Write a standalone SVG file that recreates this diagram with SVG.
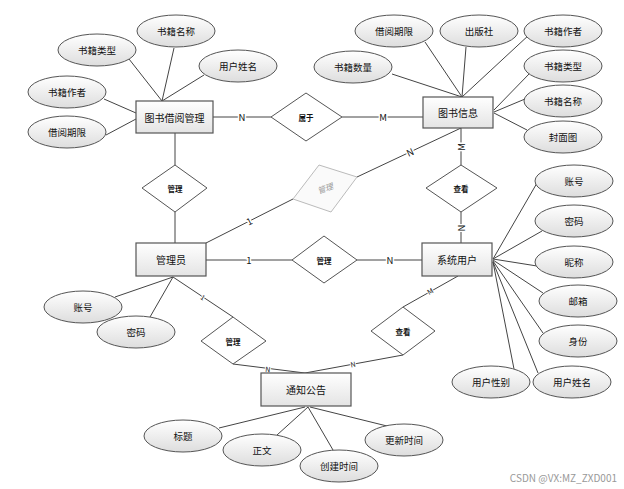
<svg xmlns="http://www.w3.org/2000/svg" width="624" height="489" viewBox="0 0 624 489">
<defs>
<linearGradient id="gr" x1="0" y1="0" x2="0" y2="1"><stop offset="0" stop-color="#ffffff"/><stop offset="1" stop-color="#e4e4e4"/></linearGradient>
<linearGradient id="ge" x1="0" y1="0" x2="0" y2="1"><stop offset="0" stop-color="#ffffff"/><stop offset="1" stop-color="#dddddd"/></linearGradient>
</defs>
<style>
text{font-family:"Noto Sans CJK SC","Liberation Sans",sans-serif;text-anchor:middle;dominant-baseline:central;fill:#111}
.ent rect{fill:url(#gr);stroke:#555;stroke-width:1.2}
.ent text{font-size:10px}
.att ellipse{fill:url(#ge);stroke:#555;stroke-width:1}
.att text{font-size:9.5px}
.rel polygon{fill:#fff;stroke:#555;stroke-width:1}
.rel text{font-size:7.5px;font-weight:bold}
#conn line{stroke:#444;stroke-width:1}
.lb{font-size:9.5px;paint-order:stroke;stroke:#fff;stroke-width:3px}
.sl{font-size:7px;paint-order:stroke;stroke:#fff;stroke-width:2px}
</style>
<rect width="624" height="489" fill="#fff"/>
<g id="conn">
<line x1="174" y1="48" x2="162" y2="101"/>
<line x1="129" y1="59" x2="162" y2="101"/>
<line x1="204" y1="75" x2="162" y2="101"/>
<line x1="104" y1="99" x2="136" y2="113"/>
<line x1="106" y1="135" x2="136" y2="119"/>
<line x1="425" y1="42" x2="462" y2="97"/>
<line x1="466" y1="47" x2="462" y2="97"/>
<line x1="530" y1="34" x2="462" y2="97"/>
<line x1="392" y1="74" x2="462" y2="97"/>
<line x1="530" y1="73" x2="494" y2="110"/>
<line x1="525" y1="99" x2="494" y2="112"/>
<line x1="527" y1="130" x2="494" y2="113"/>
<line x1="537" y1="183" x2="493" y2="259"/>
<line x1="542" y1="231" x2="493" y2="259"/>
<line x1="537" y1="266" x2="493" y2="259"/>
<line x1="543" y1="293" x2="493" y2="260"/>
<line x1="543" y1="333" x2="493" y2="261"/>
<line x1="538" y1="373" x2="493" y2="262"/>
<line x1="514" y1="369" x2="493" y2="262"/>
<line x1="115" y1="297" x2="173" y2="277"/>
<line x1="150" y1="317" x2="173" y2="277"/>
<line x1="219" y1="428" x2="305" y2="407"/>
<line x1="277" y1="435" x2="308" y2="407"/>
<line x1="333" y1="450" x2="308" y2="407"/>
<line x1="387" y1="426" x2="310" y2="407"/>
<line x1="213" y1="117" x2="271" y2="117"/>
<line x1="342" y1="117" x2="423" y2="117"/>
<line x1="175" y1="133" x2="175" y2="165"/>
<line x1="175" y1="212" x2="175" y2="243"/>
<line x1="206" y1="243" x2="293" y2="199"/>
<line x1="357" y1="177" x2="461" y2="128"/>
<line x1="461" y1="128" x2="461" y2="165"/>
<line x1="461" y1="212" x2="461" y2="243"/>
<line x1="206" y1="260" x2="292" y2="260"/>
<line x1="357" y1="260" x2="422" y2="260"/>
<line x1="458" y1="276" x2="403" y2="307"/>
<line x1="403" y1="355" x2="305" y2="373"/>
<line x1="173" y1="277" x2="233" y2="317"/>
<line x1="233" y1="364" x2="305" y2="373"/>
<text class="lb" x="242" y="117">N</text>
<text class="lb" x="383" y="117">M</text>
<text class="lb" x="249" y="221" transform="rotate(-27 249 221)">1</text>
<text class="lb" x="410" y="152" transform="rotate(-25 410 152)">N</text>
<text class="lb" x="461" y="147" transform="rotate(-90 461 147)">M</text>
<text class="lb" x="461" y="228" transform="rotate(-90 461 228)">N</text>
<text class="lb" x="249" y="260">1</text>
<text class="lb" x="390" y="260">N</text>
<text class="sl" x="430" y="291" transform="rotate(-29 430 291)">M</text>
<text class="sl" x="203" y="297" transform="rotate(34 203 297)">1</text>
<text class="sl" x="268" y="369" transform="rotate(7 268 369)">N</text>
<text class="sl" x="353" y="364" transform="rotate(-10 353 364)">N</text>
</g>
<g id="rel-shuyu" class="rel"><polygon points="271,117 306,93 342,117 306,141"/><text x="306" y="117">属于</text></g>
<g id="rel-guanli1" class="rel"><polygon points="142,188 175,165 207,188 175,212"/><text x="175" y="188">管理</text></g>
<g id="rel-guanli-faded"><polygon points="319,165 357,177 331,212 293,199" fill="#fafafa" stroke="#bbb" stroke-width="1"/><text x="325" y="188" transform="rotate(-20 325 188)" style="font-size:8px;fill:#999;font-style:italic">管理</text></g>
<g id="rel-chakan1" class="rel"><polygon points="426,188 461,165 497,188 461,212"/><text x="461" y="188">查看</text></g>
<g id="rel-guanli2" class="rel"><polygon points="292,260 324,236 357,260 324,283"/><text x="324" y="260">管理</text></g>
<g id="rel-guanli3" class="rel"><polygon points="201,341 233,317 266,341 233,364"/><text x="233" y="341">管理</text></g>
<g id="rel-chakan2" class="rel"><polygon points="371,331 403,307 435,331 403,355"/><text x="403" y="331">查看</text></g>
<g id="ent-jieyue" class="ent"><rect x="136" y="101" width="77" height="32"/><text x="174.5" y="117">图书借阅管理</text></g>
<g id="ent-tushu" class="ent"><rect x="423" y="97" width="70" height="31"/><text x="458" y="112.5">图书信息</text></g>
<g id="ent-admin" class="ent"><rect x="136" y="243" width="70" height="33"/><text x="171" y="259.5">管理员</text></g>
<g id="ent-user" class="ent"><rect x="422" y="243" width="70" height="33"/><text x="457" y="259.5">系统用户</text></g>
<g id="ent-notice" class="ent"><rect x="261" y="373" width="90" height="33"/><text x="306" y="389.5">通知公告</text></g>
<g id="a1" class="att"><ellipse cx="176" cy="31" rx="39" ry="16"/><text x="176" y="31">书籍名称</text></g>
<g id="a2" class="att"><ellipse cx="97" cy="50" rx="39" ry="16"/><text x="97" y="50">书籍类型</text></g>
<g id="a3" class="att"><ellipse cx="238" cy="66" rx="39" ry="16"/><text x="238" y="66">用户姓名</text></g>
<g id="a4" class="att"><ellipse cx="67" cy="92" rx="39" ry="16"/><text x="67" y="92">书籍作者</text></g>
<g id="a5" class="att"><ellipse cx="67" cy="132" rx="39" ry="16"/><text x="67" y="132">借阅期限</text></g>
<g id="b1" class="att"><ellipse cx="394" cy="31" rx="39" ry="16"/><text x="394" y="31">借阅期限</text></g>
<g id="b2" class="att"><ellipse cx="479" cy="31" rx="39" ry="16"/><text x="479" y="31">出版社</text></g>
<g id="b3" class="att"><ellipse cx="563" cy="31" rx="39" ry="16"/><text x="563" y="31">书籍作者</text></g>
<g id="b4" class="att"><ellipse cx="353" cy="67" rx="39" ry="16"/><text x="353" y="67">书籍数量</text></g>
<g id="b5" class="att"><ellipse cx="563" cy="66" rx="39" ry="16"/><text x="563" y="66">书籍类型</text></g>
<g id="b6" class="att"><ellipse cx="563" cy="101" rx="39" ry="16"/><text x="563" y="101">书籍名称</text></g>
<g id="b7" class="att"><ellipse cx="563" cy="137" rx="39" ry="16"/><text x="563" y="137">封面图</text></g>
<g id="c1" class="att"><ellipse cx="574" cy="181" rx="39" ry="16"/><text x="574" y="181">账号</text></g>
<g id="c2" class="att"><ellipse cx="574" cy="221" rx="39" ry="16"/><text x="574" y="221">密码</text></g>
<g id="c3" class="att"><ellipse cx="574" cy="262" rx="39" ry="16"/><text x="574" y="262">昵称</text></g>
<g id="c4" class="att"><ellipse cx="578" cy="301" rx="39" ry="16"/><text x="578" y="301">邮箱</text></g>
<g id="c5" class="att"><ellipse cx="578" cy="341" rx="39" ry="16"/><text x="578" y="341">身份</text></g>
<g id="c6" class="att"><ellipse cx="572" cy="382" rx="39" ry="16"/><text x="572" y="382">用户姓名</text></g>
<g id="c7" class="att"><ellipse cx="491" cy="382" rx="39" ry="16"/><text x="491" y="382">用户性别</text></g>
<g id="d1" class="att"><ellipse cx="83" cy="307" rx="39" ry="16"/><text x="83" y="307">账号</text></g>
<g id="d2" class="att"><ellipse cx="136" cy="332" rx="39" ry="16"/><text x="136" y="332">密码</text></g>
<g id="e1" class="att"><ellipse cx="183" cy="436" rx="39" ry="16"/><text x="183" y="436">标题</text></g>
<g id="e2" class="att"><ellipse cx="262" cy="450" rx="39" ry="16"/><text x="262" y="450">正文</text></g>
<g id="e3" class="att"><ellipse cx="339" cy="466" rx="39" ry="16"/><text x="339" y="466">创建时间</text></g>
<g id="e4" class="att"><ellipse cx="404" cy="440" rx="39" ry="16"/><text x="404" y="440">更新时间</text></g>
<text x="617" y="477" style="font-size:10px;fill:#999;text-anchor:end">CSDN @VX:MZ_ZXD001</text>
</svg>
